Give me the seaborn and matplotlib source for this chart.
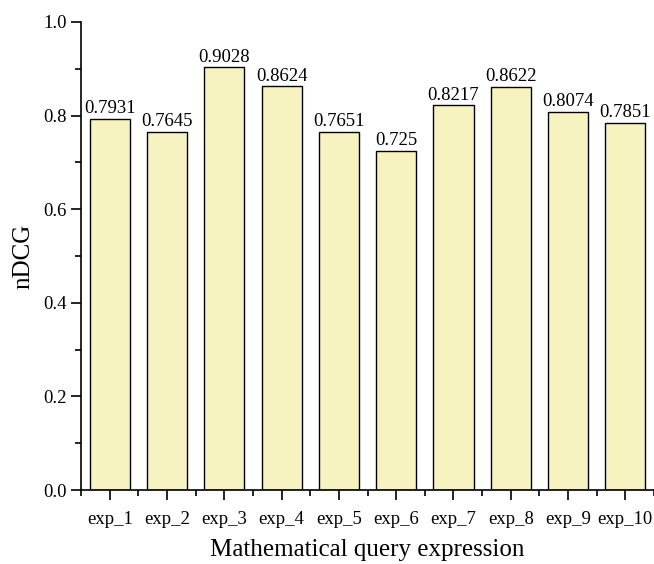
import matplotlib
matplotlib.use("Agg")
import matplotlib.pyplot as plt
import seaborn as sns
import pandas as pd
from matplotlib.ticker import MultipleLocator

# Data
experiments = ["exp_1", "exp_2", "exp_3", "exp_4", "exp_5",
               "exp_6", "exp_7", "exp_8", "exp_9", "exp_10"]
ndcg = [0.7931, 0.7645, 0.9028, 0.8624, 0.7651,
        0.725, 0.8217, 0.8622, 0.8074, 0.7851]
value_labels = ["0.7931", "0.7645", "0.9028", "0.8624", "0.7651",
                "0.725", "0.8217", "0.8622", "0.8074", "0.7851"]

df = pd.DataFrame({"exp": experiments, "ndcg": ndcg})

sns.set_style("ticks")
plt.rcParams["font.family"] = ["Liberation Serif", "DejaVu Serif"]
plt.rcParams["text.color"] = "black"
plt.rcParams["axes.labelcolor"] = "black"
plt.rcParams["xtick.color"] = "black"
plt.rcParams["ytick.color"] = "black"

fig = plt.figure(figsize=(6.54, 5.64), dpi=100)
ax = fig.add_axes([0.124, 0.131, 0.876, 0.830])

sns.barplot(data=df, x="exp", y="ndcg", color="#F6F3C1", width=0.7,
            edgecolor="black", linewidth=1.0, saturation=1, ax=ax)

for i, (v, lab) in enumerate(zip(ndcg, value_labels)):
    ax.text(i, v + 0.004, lab, ha="center", va="bottom", fontsize=13.5,
            color="black")

ax.set_xlim(-0.5, 9.5)
ax.set_ylim(0, 1.0)
ax.yaxis.set_major_locator(MultipleLocator(0.2))
ax.yaxis.set_minor_locator(MultipleLocator(0.1))
ax.xaxis.set_minor_locator(MultipleLocator(1.0, offset=0.5))
ax.yaxis.set_major_formatter(matplotlib.ticker.FormatStrFormatter("%.1f"))

ax.tick_params(axis="both", which="major", direction="out", length=7,
               width=1.2, labelsize=13.5, colors="black")
ax.tick_params(axis="both", which="minor", direction="out", length=4,
               width=1.2, colors="black")
ax.tick_params(axis="x", which="major", pad=8)

for side in ["top", "right"]:
    ax.spines[side].set_visible(False)
for side in ["left", "bottom"]:
    ax.spines[side].set_linewidth(1.2)
    ax.spines[side].set_color("black")

ax.set_xlabel("Mathematical query expression", fontsize=18, labelpad=8)
ax.set_ylabel("nDCG", fontsize=18, labelpad=6)

fig.savefig("out.png", dpi=100)
